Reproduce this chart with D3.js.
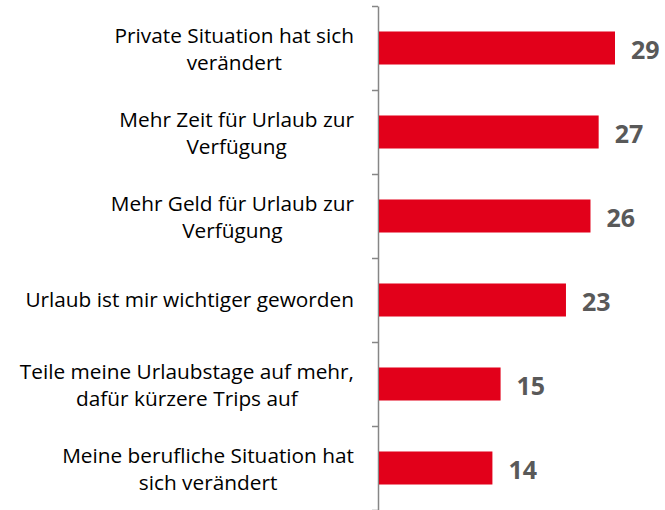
<!DOCTYPE html>
<html>
<head>
<meta charset="utf-8">
<script src="https://cdn.jsdelivr.net/npm/d3@7"></script>
<style>
  body { margin: 0; background: #fff; }
  #chart { width: 665px; height: 510px; }
</style>
</head>
<body>
<div id="chart"></div>
<script>
//Datos
const categories = [
    'Private Situation hat sich\nverändert',
    'Mehr Zeit für Urlaub zur\nVerfügung',
    'Mehr Geld für Urlaub zur\nVerfügung',
    'Urlaub ist mir wichtiger geworden',
    'Teile meine Urlaubstage auf mehr,\ndafür kürzere Trips auf',
    'Meine berufliche Situation hat\nsich verändert'
];
const values = [29, 27, 26, 23, 15, 14];

//Colores
const COLOR_BAR = '#E2001A',
COLOR_AXIS = '#868686',
COLOR_VALUE = '#595959';

let width = 665, height = 510;
let axisX = 378, labelRight = 354;

let svg = d3.select('#chart')
    .append('svg')
      .attr('width', width)
      .attr('height', height);

let x = d3.scaleLinear()
    .domain([0, 29])
    .range([axisX, 615]);

let y = d3.scaleBand()
    .domain(categories)
    .range([6, 510])
    .paddingInner(0.607)
    .paddingOuter(0.3035);

//Eje con marcas entre categorías
let yTicks = d3.scaleLinear()
    .domain([0, categories.length])
    .range([6, 510]);

svg.append('g')
    .attr('transform', 'translate(' + axisX + ',0)')
    .call(d3.axisLeft(yTicks).tickValues(d3.range(categories.length + 1)).tickFormat('').tickSize(6).tickSizeOuter(0))
    .call(function(g){
        g.selectAll('path, line').attr('stroke', COLOR_AXIS).attr('stroke-width', 1.5);
    });

//Barras
svg.selectAll('.bars')
    .data(values)
    .enter()
    .append('rect')
    .attr('class', 'bars')
    .attr('x', x(0) + 1)
    .attr('y', function(d, i) { return y(categories[i]); })
    .attr('width', function(d) { return x(d) - x(0) - 1; })
    .attr('height', y.bandwidth())
    .attr('fill', COLOR_BAR);

//Valores
svg.selectAll('.values')
    .data(values)
    .enter()
    .append('text')
    .attr('class', 'values')
    .attr('x', function(d) { return x(d) + 16; })
    .attr('y', function(d, i) { return y(categories[i]) + y.bandwidth() / 2 + 11; })
    .attr('font-family', 'Open Sans')
    .attr('font-weight', 'bold')
    .attr('font-size', 25)
    .attr('fill', COLOR_VALUE)
    .text(function(d) { return d; });

//Etiquetas de categorías
categories.forEach(function(c) {
    let lines = c.split('\n');
    let cy = y(c) + y.bandwidth() / 2;
    let g = svg.append('text')
        .attr('font-family', 'Open Sans')
        .attr('font-size', 20.8)
        .attr('fill', '#000')
        .attr('text-anchor', 'middle');
    let spans = lines.map(function(l, i) {
        let base = lines.length == 1 ? cy + 7 : cy - 5 + i * 27;
        return g.append('tspan').attr('y', base).text(l);
    });
    let w = d3.max(spans, function(s) { return s.node().getComputedTextLength(); });
    spans.forEach(function(s) { s.attr('x', labelRight - w / 2); });
});
</script>
</body>
</html>
